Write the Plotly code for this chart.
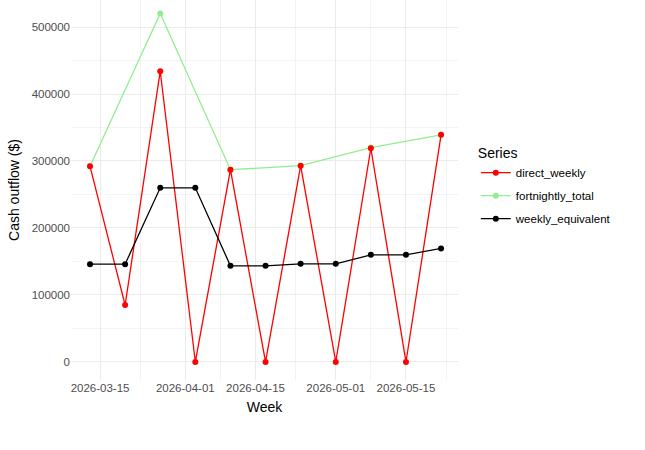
import plotly.graph_objects as go

weeks = ["2026-03-13", "2026-03-20", "2026-03-27", "2026-04-03", "2026-04-10", "2026-04-17",
         "2026-04-24", "2026-05-01", "2026-05-08", "2026-05-15", "2026-05-22"]
direct_weekly = [292000, 85000, 434000, 0, 287000, 0, 293000, 0, 319000, 0, 339000]
weekly_equivalent = [146000, 146000, 260000, 260000, 143500, 143500, 146500, 146500, 160000, 160000, 169500]

fortnight_weeks = ["2026-03-13", "2026-03-27", "2026-04-10", "2026-04-24", "2026-05-08", "2026-05-22"]
fortnightly_total = [292000, 520000, 287000, 293000, 320000, 339000]

x_ticks = ["2026-03-15", "2026-04-01", "2026-04-15", "2026-05-01", "2026-05-15"]
x_minor = ["2026-03-07", "2026-03-23", "2026-04-08", "2026-04-23", "2026-05-08", "2026-05-23"]
y_ticks = [0, 100000, 200000, 300000, 400000, 500000]

fig = go.Figure()
# fortnightly drawn first so the red points sit over it
series = [
    ("fortnightly_total", fortnight_weeks, fortnightly_total, "#90EE90", 2),
    ("direct_weekly", weeks, direct_weekly, "#FF0000", 1),
    ("weekly_equivalent", weeks, weekly_equivalent, "#000000", 3),
]
for name, xs, ys, col, rank in series:
    fig.add_trace(go.Scatter(x=xs, y=ys, name=name, mode="lines+markers",
                             legendgroup=name, legendrank=rank,
                             line=dict(color=col, width=1.3),
                             marker=dict(color=col, size=6)))

grid = "#EBEBEB"
fig.update_layout(
    width=645, height=450,
    margin=dict(l=71, r=187, t=0, b=70),
    plot_bgcolor="white", paper_bgcolor="white",
    font=dict(family="Liberation Sans, Arial, sans-serif", color="#000000"),
    showlegend=True,
    hovermode=False,
    legend=dict(title=dict(text="Series", font=dict(size=14)),
                x=1.046, xanchor="left", y=0.508, yanchor="middle",
                font=dict(size=11.5), itemwidth=30, tracegroupgap=4),
    xaxis=dict(
        title=dict(text="Week", font=dict(size=14), standoff=9),
        type="date", automargin=False,
        range=["2026-03-09 05:00", "2026-05-25 09:00"],
        tickvals=x_ticks, ticktext=x_ticks,
        tickfont=dict(size=11.5, color="#4D4D4D"),
        ticklabelstandoff=-1,
        showgrid=True, gridcolor=grid, gridwidth=1.1,
        minor=dict(tickmode="array", tickvals=x_minor, showgrid=True,
                   gridcolor="#F3F3F3", gridwidth=0.6),
        zeroline=False, showline=False, ticks="",
    ),
    yaxis=dict(
        title=dict(text="Cash outflow ($)", font=dict(size=14), standoff=8),
        automargin=False,
        range=[-26900, 540300],
        tickvals=y_ticks, ticktext=[str(v) for v in y_ticks],
        tickfont=dict(size=11.5, color="#4D4D4D"),
        showgrid=True, gridcolor=grid, gridwidth=1.1,
        minor=dict(dtick=50000, tick0=0, showgrid=True,
                   gridcolor="#F3F3F3", gridwidth=0.6),
        zeroline=False, showline=False, ticks="",
    ),
)

# drop the browser's default 8px body margin so the figure sits at 0,0
fig.write_html("out.html", config={"displayModeBar": False},
               post_script="document.body.style.margin='0';")
